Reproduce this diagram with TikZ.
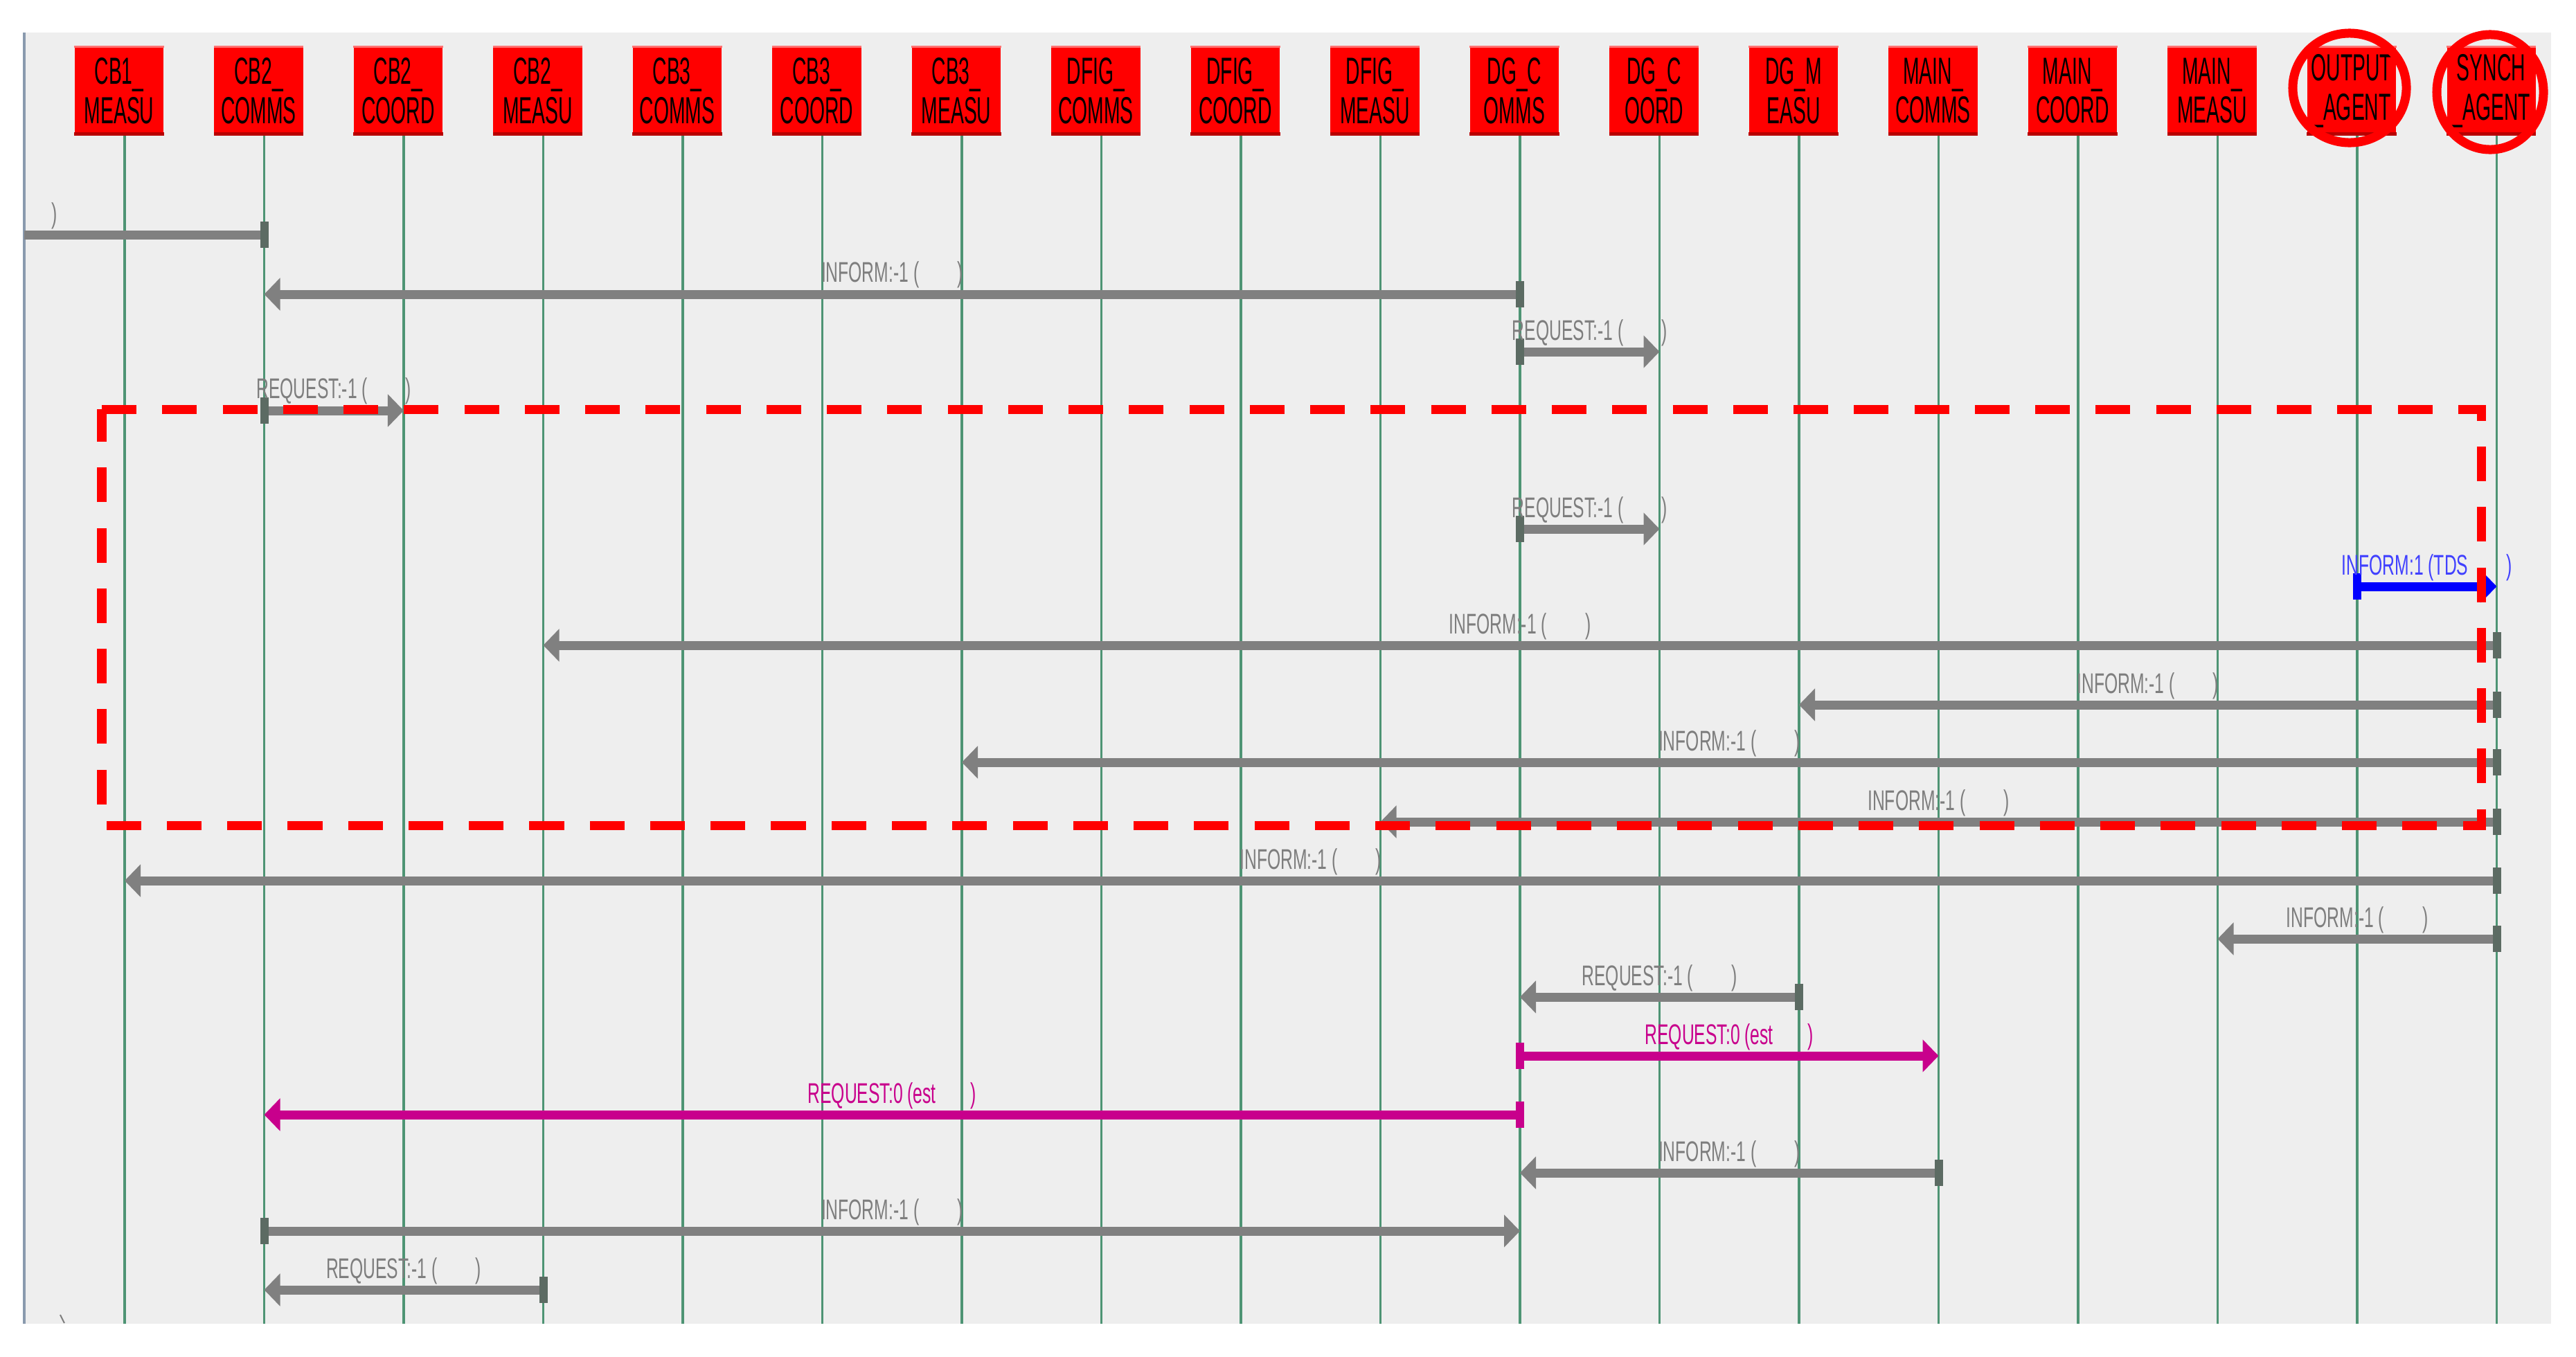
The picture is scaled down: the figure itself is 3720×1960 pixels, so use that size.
\documentclass[tikz,border=0pt]{standalone}
\usepackage{fontspec}
\setmainfont{Liberation Sans}
\newfontfamily\boxfont[FakeStretch=0.52]{Liberation Sans}
\newfontfamily\msgfont[FakeStretch=0.6]{Liberation Sans}
\usetikzlibrary{arrows.meta}
\definecolor{panelgray}{HTML}{EEEEEE}
\definecolor{life}{HTML}{4E9474}
\definecolor{msggray}{HTML}{808080}
\definecolor{bargray}{HTML}{5C6B63}
\definecolor{labgray}{HTML}{7E7E7E}
\definecolor{mag}{HTML}{C8008C}
\definecolor{edgecol}{HTML}{8A9AAE}
\newcommand{\msggap}{\hspace{0.55cm}}
\begin{document}
\begin{tikzpicture}[x=0.01cm,y=-0.01cm,
  agent/.style={fill=red, minimum width=1.28cm, minimum height=1.28cm, inner sep=0pt,
    align=center, font=\boxfont\fontsize{15.5}{16.2}\selectfont, text=black},
  lifeline/.style={draw=life, line width=0.035cm},
  msgbase/.style={line width=0.13cm, shorten <=-0.06cm},
  gmsg/.style={msgbase, draw=msggray,
    arrows={Rectangle[length=0.12cm,width=0.38cm,color=bargray]-Triangle[length=0.23cm,width=0.46cm]}},
  cmsg/.style={msgbase, draw=#1,
    arrows={Rectangle[length=0.12cm,width=0.38cm]-Triangle[length=0.23cm,width=0.46cm]}},
  labtext/.style={anchor=base, inner sep=0pt, font=\msgfont\fontsize{11.7}{12}\selectfont, text=labgray},
  lab/.style={labtext, midway, yshift=0.17cm},
  ring/.style={draw=red, line width=0.13cm},
  focus/.style={draw=red, line width=0.13cm, dash pattern=on 0.5cm off 0.372cm}
]
\useasboundingbox (0,0) rectangle (3720,1960);
\fill[white] (0,0) rectangle (3720,1960);
% panel
\fill[panelgray] (35,47) rectangle (3684,1912);
\draw[edgecol, line width=0.04cm] (35,47) -- (35,1912);

% agents and lifelines
\foreach \i/\a/\b in {0/CB1\_/MEASU, 1/CB2\_/COMMS, 2/CB2\_/COORD, 3/CB2\_/MEASU,
  4/CB3\_/COMMS, 5/CB3\_/COORD, 6/CB3\_/MEASU, 7/DFIG\_/COMMS, 8/DFIG\_/COORD,
  9/DFIG\_/MEASU, 10/DG\_C/OMMS, 11/DG\_C/OORD, 12/DG\_M/EASU, 13/MAIN\_/COMMS,
  14/MAIN\_/COORD, 15/MAIN\_/MEASU, 16/OUTPUT/\_AGENT, 17/SYNCH/\_AGENT}{
  \pgfmathsetmacro\xx{180+201.5*\i}
  \coordinate (L\i) at (\xx,195);
  \coordinate (B\i) at (\xx,1912);
  \draw[lifeline] (L\i) -- (B\i);
  \node[agent] (h\i) at (\xx-8,131) {\a\\\b};
  \fill[red!55!white] (h\i.north west) rectangle ([yshift=-0.03cm]h\i.north east);
  \fill[red!72!black] ([yshift=0.05cm]h\i.south west) rectangle (h\i.south east);
}

% message rows
\foreach \k/\y in {1/339,2/425,3/508,4/593,5/764,6/847,7/932,8/1018,9/1101,10/1187,
  11/1272,12/1356,13/1440,14/1525,15/1610,16/1694,17/1778,18/1863}{
  \coordinate (r\k) at (0,\y);
}
\coordinate (edgeL) at (35,339);

% messages
\draw[msgbase, draw=msggray, arrows={Rectangle[length=0.12cm,width=0.38cm,color=bargray]-}] (L1 |- r1) -- (edgeL);
\node[labtext] (p1) at (79,322) {)};
\draw[gmsg] (L10 |- r2) -- node[lab]{INFORM:-1 (\msggap)} (L1 |- r2);
\draw[gmsg] (L10 |- r3) -- node[lab]{REQUEST:-1 (\msggap)} (L11 |- r3);
\draw[gmsg] (L1 |- r4) -- node[lab]{REQUEST:-1 (\msggap)} (L2 |- r4);
\draw[gmsg] (L10 |- r5) -- node[lab]{REQUEST:-1 (\msggap)} (L11 |- r5);
\draw[cmsg=blue] (L16 |- r6) -- node[lab, text=blue!75!white]{INFORM:1 (TDS\msggap)} (L17 |- r6);
\draw[gmsg] (L17 |- r7) -- node[lab]{INFORM:-1 (\msggap)} (L3 |- r7);
\draw[gmsg] (L17 |- r8) -- node[lab]{INFORM:-1 (\msggap)} (L12 |- r8);
\draw[gmsg] (L17 |- r9) -- node[lab]{INFORM:-1 (\msggap)} (L6 |- r9);
\draw[gmsg] (L17 |- r10) -- node[lab]{INFORM:-1 (\msggap)} (L9 |- r10);
\draw[gmsg] (L17 |- r11) -- node[lab]{INFORM:-1 (\msggap)} (L0 |- r11);
\draw[gmsg] (L17 |- r12) -- node[lab]{INFORM:-1 (\msggap)} (L15 |- r12);
\draw[gmsg] (L12 |- r13) -- node[lab]{REQUEST:-1 (\msggap)} (L10 |- r13);
\draw[cmsg=mag] (L10 |- r14) -- node[lab, text=mag]{REQUEST:0 (est\hspace{0.5cm})} (L13 |- r14);
\draw[cmsg=mag] (L10 |- r15) -- node[lab, text=mag]{REQUEST:0 (est\hspace{0.5cm})} (L1 |- r15);
\draw[gmsg] (L13 |- r16) -- node[lab]{INFORM:-1 (\msggap)} (L10 |- r16);
\draw[gmsg] (L1 |- r17) -- node[lab]{INFORM:-1 (\msggap)} (L10 |- r17);
\draw[gmsg] (L3 |- r18) -- node[lab]{REQUEST:-1 (\msggap)} (L1 |- r18);
\draw[labgray, line width=0.02cm] (87,1899) -- (93,1911);

% highlight marks
\draw[focus] (147,591) -- (3583,591) -- (3583,1192) -- (147,1192) -- cycle;
\draw[ring] (3393,127) ellipse [x radius=0.82cm, y radius=0.79cm];
\draw[ring] (3596,133) ellipse [x radius=0.77cm, y radius=0.83cm];
\end{tikzpicture}
\end{document}
